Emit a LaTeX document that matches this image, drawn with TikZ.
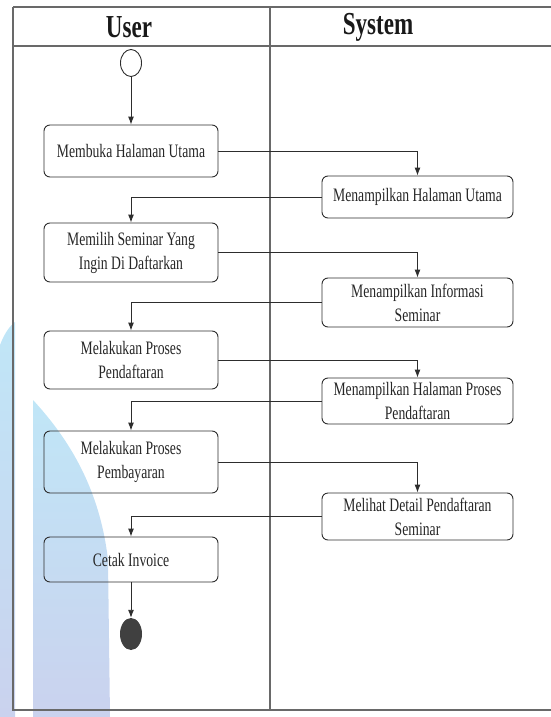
\documentclass[tikz,border=0pt]{standalone}
\usepackage{fontspec}
\setmainfont{Liberation Serif}[FakeStretch=0.72]
\usetikzlibrary{arrows.meta,shapes.geometric}
\definecolor{lanegray}{RGB}{105,105,105}
\definecolor{linegray}{RGB}{45,45,45}
\definecolor{wmblue}{RGB}{192,230,247}
\definecolor{wmlav}{RGB}{202,210,238}

\begin{document}
\begin{tikzpicture}[x=1pt,y=1pt,yscale=-1,
        act/.style={draw=linegray, line width=0.9pt, rounded corners=6pt, align=center, inner sep=0pt, text=black!85, font=\fontsize{19}{24}\selectfont},
        useract/.style={act, minimum width=174pt},
        sysact/.style={act, minimum width=191pt},
        flow/.style={draw=linegray, line width=0.9pt, -{Latex[length=8pt,width=6pt]}},
        lane/.style={draw=lanegray, line width=1.3pt},
        lanetitle/.style={font=\fontsize{32}{36}\selectfont\bfseries, text=black!90}]
        \useasboundingbox (0,0) rectangle (551,717);

        %Shape: watermark left band
        \shade [top color=wmblue, bottom color=wmlav] (0,717) -- (0,345) .. controls (5,332) and (10,326) .. (15,322) -- (15,717) -- cycle ;
        %Shape: watermark right band
        \shade [top color=wmblue, bottom color=wmlav] (33,717) -- (33,400) .. controls (70,440) and (100,490) .. (108,560) -- (110,717) -- cycle ;

        %Straight Lines: swimlane frame
        \draw [lane] (13,7) -- (553,7) ;
        \draw [lane] (13,46) -- (553,46) ;
        \draw [lane] (13,7) -- (13,710) -- (553,710) ;
        \draw [lane] (270,7) -- (270,710) ;

        % Text Node
        \node [lanetitle] (user) at (129,27) {User};
        % Text Node
        \node [lanetitle] (system) at (378,27) {System};

        %Shape: start
        \node [draw=linegray, line width=0.9pt, ellipse, minimum width=21pt, minimum height=27pt, inner sep=0pt] (start) at (131,63) {};
        %Shape: end
        \node [fill=black!75, ellipse, minimum width=22pt, minimum height=32pt, inner sep=0pt] (stop) at (131,634) {};

        %Shape: user actions
        \node [useract, minimum height=52pt] (buka) at (131,151) {Membuka Halaman Utama};
        \node [useract, minimum height=59pt] (pilih) at (131,252.5) {Memilih Seminar Yang\\Ingin Di Daftarkan};
        \node [useract, minimum height=58pt] (daftar) at (131,360) {Melakukan Proses\\Pendaftaran};
        \node [useract, minimum height=62pt] (bayar) at (131,462) {Melakukan Proses\\Pembayaran};
        \node [useract, minimum height=45pt] (cetak) at (131,559.5) {Cetak Invoice};

        %Shape: system actions
        \node [sysact, minimum height=42pt] (utama) at (417.5,197) {Menampilkan Halaman Utama};
        \node [sysact, minimum height=49pt] (info) at (417.5,302.5) {Menampilkan Informasi\\Seminar};
        \node [sysact, minimum height=46pt] (proses) at (417.5,401) {Menampilkan Halaman Proses\\Pendaftaran};
        \node [sysact, minimum height=47pt] (detail) at (417.5,516.5) {Melihat Detail Pendaftaran\\Seminar};

        %Straight Lines: flow
        \draw [flow] (start) -- (buka) ;
        \draw [flow] (buka.east) -| (utama.north) ;
        \draw [flow] (utama.west) -| (pilih.north) ;
        \draw [flow] (pilih.east) -| (info.north) ;
        \draw [flow] (info.west) -| (daftar.north) ;
        \draw [flow] (daftar.east) -| (proses.north) ;
        \draw [flow] (proses.west) -| (bayar.north) ;
        \draw [flow] (bayar.east) -| (detail.north) ;
        \draw [flow] (detail.west) -| (cetak.north) ;
        \draw [flow] (cetak) -- (stop) ;

    \end{tikzpicture}
\end{document}
